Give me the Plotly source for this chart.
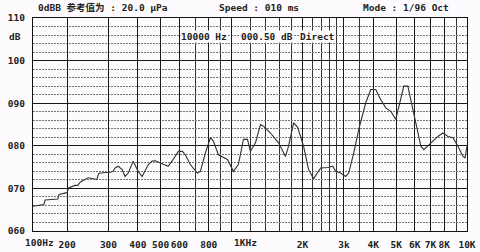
import numpy as np
import plotly.graph_objects as go

# ---------------- data ----------------
freq_hz = [100, 112, 125, 128, 140, 166, 170, 190, 200, 203, 216, 222, 228, 246, 268, 272, 276,
           305, 314, 320, 330, 343, 353, 364, 382, 401, 417, 443, 460, 474, 498, 513, 538, 565,
           594, 618, 636, 668, 715, 737, 774, 813, 837, 879, 960, 1018, 1069, 1123, 1168, 1203,
           1263, 1327, 1366, 1463, 1583, 1695, 1746, 1834, 1907, 2022, 2124, 2230, 2390, 2560,
           2688, 2768, 2906, 3052, 3144, 3302, 3468, 3714, 3902, 4096, 4302, 4520, 4746, 4984,
           5134, 5390, 5606, 5772, 6062, 6368, 6558, 7024, 7522, 7902, 8300, 8718, 9152, 9614,
           9804, 10000]
level_db = [65.8, 66.0, 66.2, 67.3, 67.4, 67.5, 68.6, 68.8, 69.0, 70.1, 70.7, 70.7, 71.5, 72.5,
            72.1, 73.4, 73.6, 73.8, 74.0, 74.8, 75.2, 74.4, 72.8, 73.6, 76.4, 74.0, 72.8, 75.6,
            76.4, 76.5, 76.0, 75.6, 75.2, 76.8, 78.7, 78.7, 77.9, 75.6, 73.6, 74.0, 78.3, 81.9,
            81.1, 77.9, 76.8, 74.0, 75.6, 81.5, 81.5, 78.7, 80.7, 85.0, 84.6, 83.0, 80.7, 77.5,
            79.9, 85.4, 84.4, 79.9, 74.4, 72.3, 74.8, 74.9, 75.2, 74.0, 73.6, 72.8, 73.6, 78.3,
            83.8, 90.1, 93.2, 93.2, 90.8, 88.9, 88.1, 86.2, 89.3, 94.0, 94.0, 90.8, 84.6, 79.9,
            79.1, 80.7, 82.2, 83.0, 82.2, 81.9, 79.9, 77.5, 77.2, 79.9]

tick_freqs = [100, 200, 300, 400, 500, 600, 800, 1000, 2000, 3000, 4000, 5000, 6000, 7000, 8000, 10000]
tick_labels = ["100Hz", "200", "300", "400", "500", "600", "800", "1KHz", "2K", "3k", "4K",
               "5K", "6K", "7K", "8K", "10K"]
extra_grid_freqs = [700, 900, 1200, 1400, 1600, 1800, 2200, 2400, 2600, 2800, 3500, 9000]
y_ticks = [60, 70, 80, 90, 100, 110]
y_labels = ["060", "070", "080", "090", "100", "110"]

header_left = "0dBB 参考值为 : 20.0 μPa"
header_mid = "Speed : 010 ms"
header_right = "Mode : 1/96 Oct"
cursor_freq = "10000 Hz"
cursor_level = "000.50 dB"
cursor_mode = "Direct"

# ---------------- frequency scale of the chart paper ----------------
# log scale (per octave) from 200 Hz upward; the 100-200 Hz octave is printed compressed
LOW_OCTAVE_SCALE = 0.48


def fscale(f):
    f = np.asarray(f, dtype=float)
    o = np.log2(f / 200.0)
    return np.where(f >= 200, o, LOW_OCTAVE_SCALE * o)


# labels with a unit suffix are printed with the number under the line (left-shifted text)
SHIFTED = {"100Hz": -10, "1KHz": 0}
ticktext = ["" if t in SHIFTED else "<b>" + t + "</b>" for t in tick_labels]
yticktext = ["<b>" + t + "</b>" for t in y_labels]

FONT = "DejaVu Sans Mono, Noto Sans CJK SC, monospace"
FS = 9.5
INK = "#222222"
BG = "#fdfbfd"

fig = go.Figure()
fig.add_trace(go.Scatter(
    x=fscale(freq_hz), y=level_db, mode="lines",
    line=dict(color="#333333", width=1.1), hoverinfo="skip", showlegend=False,
))

xr = [float(fscale(100)), float(fscale(10000))]

fig.update_layout(
    width=480, height=252,
    margin=dict(l=33, r=13, t=18, b=21, autoexpand=False),
    paper_bgcolor=BG, plot_bgcolor=BG,
    font=dict(family=FONT, size=FS, color=INK),
    xaxis=dict(
        range=xr, tickmode="array", tickvals=fscale(tick_freqs).tolist(), ticktext=ticktext,
        tickangle=0, automargin=False,
        showgrid=True, gridcolor="#1a1a1a", gridwidth=1,
        minor=dict(tickmode="array", tickvals=fscale(extra_grid_freqs).tolist(),
                   showgrid=True, gridcolor="#333333", gridwidth=1, ticks=""),
        showline=True, linecolor="#111111", linewidth=1.2, mirror=True,
        ticks="outside", ticklen=4, tickcolor="rgba(0,0,0,0)",
        tickfont=dict(family=FONT, size=FS, color=INK), zeroline=False,
    ),
    yaxis=dict(
        range=[60, 110], tickmode="array", tickvals=y_ticks, ticktext=yticktext,
        automargin=False,
        showgrid=True, gridcolor="#1a1a1a", gridwidth=1,
        minor=dict(dtick=2, showgrid=True, gridcolor="#777777", griddash="2px,1px", gridwidth=1,
                   ticks=""),
        showline=True, linecolor="#111111", linewidth=1.2, mirror=True,
        ticks="outside", ticklen=5, tickcolor="rgba(0,0,0,0)",
        tickfont=dict(family=FONT, size=FS, color=INK), zeroline=False,
    ),
)


def px(xpix):
    return (xpix - 33) / 434.0


def py(ypix):
    return (231 - ypix) / 213.0


def label(text, xpix, ypix, bg=None):
    fig.add_annotation(text="<b>%s</b>" % text, x=px(xpix), y=py(ypix), xref="paper", yref="paper",
                       xanchor="left", yanchor="middle", showarrow=False,
                       font=dict(family=FONT, size=FS, color=INK),
                       bgcolor=bg, borderpad=0)


for f, t in zip(tick_freqs, tick_labels):
    if t in SHIFTED:
        fig.add_annotation(text="<b>%s</b>" % t, x=float(fscale(f)), xref="x",
                           y=py(242), yref="paper", xanchor="left", yanchor="middle",
                           xshift=SHIFTED[t], showarrow=False,
                           font=dict(family=FONT, size=FS, color=INK))

label(header_left, 37, 8)
label(header_mid, 218, 8)
label(header_right, 362, 8)
label("dB", 8, 37)
label(cursor_freq, 180, 37, BG)
label(cursor_level, 240, 37, BG)
label(cursor_mode, 299, 37, BG)

fig.write_html("out.html")
